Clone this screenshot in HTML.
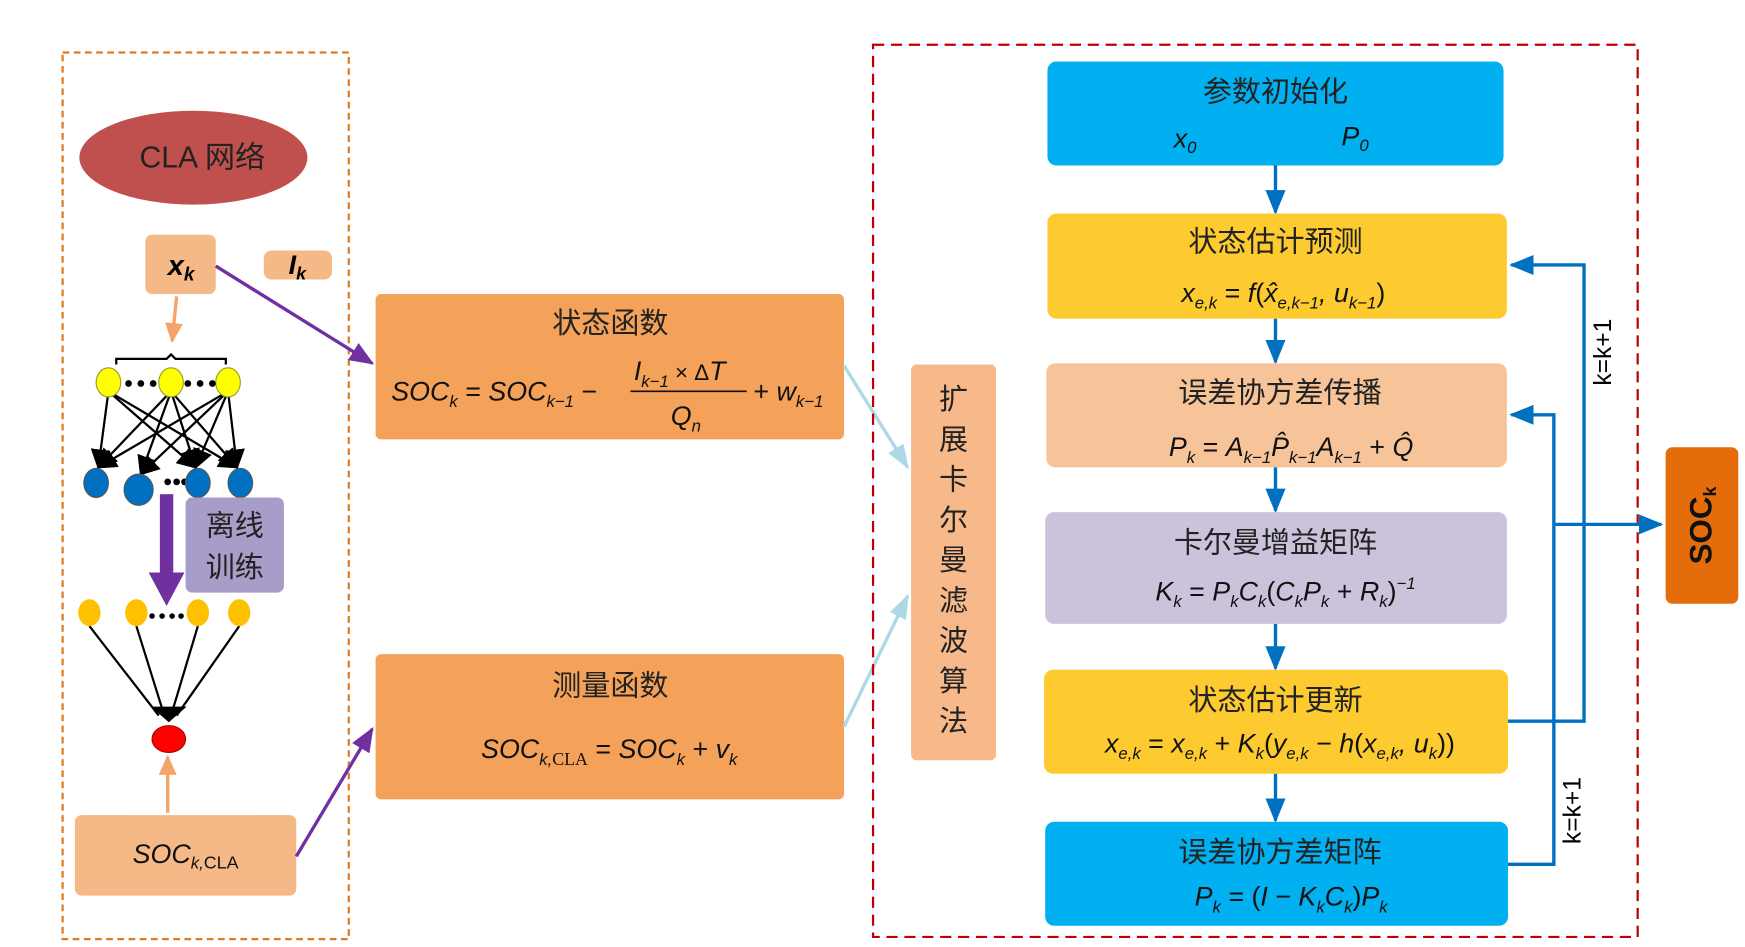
<!DOCTYPE html>
<html><head><meta charset="utf-8"><style>
html,body{margin:0;padding:0;background:#fff;}
svg{display:block;}
text{font-family:"Liberation Sans","Noto Sans CJK SC",sans-serif;}
.cn{font-size:26px;fill:#222;}
.m{font-style:italic;font-size:24px;fill:#111;}
.s{font-size:15px;}
</style></head><body>
<svg width="1745" height="947" viewBox="0 0 1561 847" preserveAspectRatio="none" xmlns="http://www.w3.org/2000/svg">
<defs>
<marker id="ab" markerWidth="8" markerHeight="8" refX="6" refY="4" orient="auto" markerUnits="userSpaceOnUse"><path d="M0,0 L8,4 L0,8z" fill="#000"/></marker>
<marker id="ap" markerWidth="22" markerHeight="18" refX="20" refY="9" orient="auto" markerUnits="userSpaceOnUse"><path d="M0,0 L22,9 L0,18z" fill="#7030a0"/></marker>
<marker id="ao" markerWidth="18" markerHeight="16" refX="16" refY="8" orient="auto" markerUnits="userSpaceOnUse"><path d="M0,0 L18,8 L0,16z" fill="#f4a46a"/></marker>
<marker id="al" markerWidth="22" markerHeight="16" refX="20" refY="8" orient="auto" markerUnits="userSpaceOnUse"><path d="M0,0 L22,8 L0,16z" fill="#add8e6"/></marker>
<marker id="abl" markerWidth="22" markerHeight="18" refX="20" refY="9" orient="auto" markerUnits="userSpaceOnUse"><path d="M0,0 L22,9 L0,18z" fill="#0070c0"/></marker>
<marker id="ak" markerWidth="18" markerHeight="18" refX="16" refY="9" orient="auto" markerUnits="userSpaceOnUse"><path d="M0,0 L18,9 L0,18z" fill="#000"/></marker>
</defs>

<!-- left dashed -->
<rect x="56" y="47" width="256" height="793" fill="none" stroke="#e07b22" stroke-width="2" stroke-dasharray="6,4"/>
<ellipse cx="173" cy="141" rx="102" ry="42" fill="#c0504d"/>
<text x="181" y="150" font-size="27" text-anchor="middle" fill="#222">CLA 网络</text>
<rect x="130" y="210" width="63" height="53" rx="6" fill="#f5b887"/>
<text x="162" y="246" font-size="26" font-weight="bold" font-style="italic" text-anchor="middle">x<tspan font-size="17" dy="5">k</tspan></text>
<rect x="236" y="224" width="61" height="26" rx="7" fill="#f5b887"/>
<text x="266" y="245" font-size="24" font-weight="bold" font-style="italic" text-anchor="middle">I<tspan font-size="16" dy="5">k</tspan></text>
<line x1="158" y1="265" x2="154" y2="305" stroke="#f4a46a" stroke-width="3" marker-end="url(#ao)"/>
<path d="M104,326 v-5 h45 l4,-4 l4,4 h45 v5" fill="none" stroke="#000" stroke-width="2"/>
<!-- connections -->
<g stroke="#000" stroke-width="2" marker-end="url(#ak)">
<line x1="97" y1="350" x2="88" y2="418"/><line x1="97" y1="350" x2="175" y2="418"/><line x1="97" y1="350" x2="212" y2="418"/>
<line x1="153" y1="350" x2="88" y2="418"/><line x1="153" y1="350" x2="126" y2="424"/><line x1="153" y1="350" x2="175" y2="418"/><line x1="153" y1="350" x2="212" y2="418"/>
<line x1="204" y1="350" x2="88" y2="418"/><line x1="204" y1="350" x2="126" y2="424"/><line x1="204" y1="350" x2="175" y2="418"/><line x1="204" y1="350" x2="212" y2="418"/>
</g>
<g fill="#ffff00" stroke="#9a9a30"><ellipse cx="97" cy="342" rx="11" ry="13"/><ellipse cx="153" cy="342" rx="11" ry="13"/><ellipse cx="204" cy="342" rx="11" ry="13"/></g>
<g fill="#000"><circle cx="115" cy="343" r="3"/><circle cx="126" cy="343" r="3"/><circle cx="137" cy="343" r="3"/><circle cx="168" cy="343" r="3"/><circle cx="179" cy="343" r="3"/><circle cx="190" cy="343" r="3"/>
<circle cx="150" cy="431" r="3"/><circle cx="158" cy="431" r="3"/><circle cx="165" cy="431" r="3"/></g>
<g fill="#0070c0" stroke="#555"><ellipse cx="86" cy="432" rx="11" ry="13"/><ellipse cx="124" cy="438" rx="13" ry="14"/><ellipse cx="177" cy="432" rx="11" ry="13"/><ellipse cx="215" cy="432" rx="11" ry="13"/></g>
<rect x="143" y="442" width="12" height="72" fill="#7030a0"/>
<path d="M133,512 L165,512 L149,542z" fill="#7030a0"/>
<rect x="166" y="445" width="88" height="85" rx="6" fill="#a89cc8"/>
<text x="210" y="479" class="cn" text-anchor="middle" font-size="28">离线</text>
<text x="210" y="516" class="cn" text-anchor="middle" font-size="28">训练</text>
<g stroke="#000" stroke-width="2">
<line x1="80" y1="560" x2="142" y2="640"/><line x1="122" y1="560" x2="147" y2="640"/><line x1="177" y1="560" x2="153" y2="640"/><line x1="214" y1="560" x2="158" y2="640"/>
</g>
<path d="M135,632 L167,632 L151,646z" fill="#000"/>
<g fill="#ffc000"><ellipse cx="80" cy="548" rx="10" ry="12"/><ellipse cx="122" cy="548" rx="10" ry="12"/><ellipse cx="177" cy="548" rx="10" ry="12"/><ellipse cx="214" cy="548" rx="10" ry="12"/></g>
<g fill="#000"><circle cx="136" cy="551" r="2.5"/><circle cx="145" cy="551" r="2.5"/><circle cx="154" cy="551" r="2.5"/><circle cx="162" cy="551" r="2.5"/></g>
<ellipse cx="151" cy="661" rx="15" ry="12" fill="#ff0000" stroke="#a00"/>
<line x1="150" y1="727" x2="150" y2="677" stroke="#f4a46a" stroke-width="3" marker-end="url(#ao)"/>
<rect x="67" y="729" width="198" height="72" rx="6" fill="#f5b887"/>
<text x="166" y="772" class="m" text-anchor="middle">SOC<tspan font-size="15" dy="5">k,</tspan><tspan font-size="16" font-style="normal">CLA</tspan></text>

<line x1="193" y1="238" x2="333" y2="325" stroke="#7030a0" stroke-width="3" marker-end="url(#ap)"/>
<line x1="265" y1="766" x2="333" y2="652" stroke="#7030a0" stroke-width="3" marker-end="url(#ap)"/>

<!-- middle -->
<rect x="336" y="263" width="419" height="130" rx="5" fill="#f4a15a"/>
<text x="546" y="298" class="cn" text-anchor="middle">状态函数</text>
<text x="350" y="358" class="m">SOC<tspan class="s" dy="6">k</tspan><tspan dy="-6" font-style="normal"> = </tspan>SOC<tspan class="s" dy="6">k−1</tspan><tspan dy="-6" font-style="normal"> − </tspan></text>
<line x1="564" y1="350" x2="668" y2="350" stroke="#111" stroke-width="1.5"/>
<text x="567" y="340" class="m">I<tspan class="s" dy="6">k−1</tspan><tspan dy="-6" font-style="normal" font-size="20"> × Δ</tspan>T</text>
<text x="600" y="380" class="m">Q<tspan class="s" dy="6">n</tspan></text>
<text x="674" y="358" class="m"><tspan font-style="normal">+ </tspan>w<tspan class="s" dy="6">k−1</tspan></text>
<rect x="336" y="585" width="419" height="130" rx="5" fill="#f4a15a"/>
<text x="546" y="622" class="cn" text-anchor="middle">测量函数</text>
<text x="545" y="678" class="m" text-anchor="middle">SOC<tspan class="s" dy="6">k,</tspan><tspan font-size="16" font-style="normal" font-family="Liberation Serif">CLA</tspan><tspan dy="-6" font-style="normal"> = </tspan>SOC<tspan class="s" dy="6">k</tspan><tspan dy="-6" font-style="normal"> + </tspan>v<tspan class="s" dy="6">k</tspan></text>
<line x1="755" y1="327" x2="812" y2="418" stroke="#add8e6" stroke-width="3" marker-end="url(#al)"/>
<line x1="755" y1="650" x2="812" y2="533" stroke="#add8e6" stroke-width="3" marker-end="url(#al)"/>
<rect x="815" y="326" width="76" height="354" rx="5" fill="#f7b98a"/>
<g class="cn" text-anchor="middle" font-size="27">
<text x="853" y="366">扩</text><text x="853" y="402">展</text><text x="853" y="438">卡</text><text x="853" y="474">尔</text><text x="853" y="510">曼</text><text x="853" y="546">滤</text><text x="853" y="582">波</text><text x="853" y="618">算</text><text x="853" y="654">法</text>
</g>

<!-- right dashed -->
<rect x="781" y="40" width="684" height="798" fill="none" stroke="#c00000" stroke-width="2" stroke-dasharray="10,6"/>
<g stroke="#0070c0" stroke-width="3" marker-end="url(#abl)">
<line x1="1141" y1="148" x2="1141" y2="190"/><line x1="1141" y1="285" x2="1141" y2="324"/><line x1="1141" y1="418" x2="1141" y2="457"/><line x1="1141" y1="558" x2="1141" y2="598"/><line x1="1141" y1="692" x2="1141" y2="734"/>
</g>
<rect x="937" y="55" width="408" height="93" rx="8" fill="#00b0f0"/>
<text x="1141" y="91" class="cn" text-anchor="middle">参数初始化</text>
<text x="1050" y="132" class="m">x<tspan class="s" dy="5">0</tspan></text>
<text x="1200" y="130" class="m">P<tspan class="s" dy="5">0</tspan></text>
<rect x="937" y="191" width="411" height="94" rx="8" fill="#fdca30"/>
<text x="1141" y="225" class="cn" text-anchor="middle">状态估计预测</text>
<text x="1148" y="270" class="m" text-anchor="middle">x<tspan class="s" dy="6">e,k</tspan><tspan dy="-6" font-style="normal"> = </tspan>f<tspan font-style="normal">(</tspan>x̂<tspan class="s" dy="6">e,k−1</tspan><tspan dy="-6">, </tspan>u<tspan class="s" dy="6">k−1</tspan><tspan dy="-6" font-style="normal">)</tspan></text>
<rect x="936" y="325" width="412" height="93" rx="8" fill="#f7c49a"/>
<text x="1145" y="360" class="cn" text-anchor="middle">误差协方差传播</text>
<text x="1155" y="408" class="m" text-anchor="middle">P<tspan class="s" dy="6">k</tspan><tspan dy="-6" font-style="normal"> = </tspan>A<tspan class="s" dy="6">k−1</tspan><tspan dy="-6">P̂</tspan><tspan class="s" dy="6">k−1</tspan><tspan dy="-6">A</tspan><tspan class="s" dy="6">k−1</tspan><tspan dy="-6" font-style="normal"> + </tspan>Q̂</text>
<rect x="935" y="458" width="413" height="100" rx="8" fill="#cbc3dc"/>
<text x="1141" y="494" class="cn" text-anchor="middle">卡尔曼增益矩阵</text>
<text x="1150" y="537" class="m" text-anchor="middle">K<tspan class="s" dy="6">k</tspan><tspan dy="-6" font-style="normal"> = </tspan>P<tspan class="s" dy="6">k</tspan><tspan dy="-6">C</tspan><tspan class="s" dy="6">k</tspan><tspan dy="-6" font-style="normal">(</tspan>C<tspan class="s" dy="6">k</tspan><tspan dy="-6">P</tspan><tspan class="s" dy="6">k</tspan><tspan dy="-6" font-style="normal"> + </tspan>R<tspan class="s" dy="6">k</tspan><tspan dy="-6" font-style="normal">)</tspan><tspan class="s" dy="-10">−1</tspan></text>
<rect x="934" y="599" width="415" height="93" rx="8" fill="#fdca30"/>
<text x="1141" y="635" class="cn" text-anchor="middle">状态估计更新</text>
<text x="1145" y="673" class="m" text-anchor="middle">x<tspan class="s" dy="6">e,k</tspan><tspan dy="-6" font-style="normal"> = </tspan>x<tspan class="s" dy="6">e,k</tspan><tspan dy="-6" font-style="normal"> + </tspan>K<tspan class="s" dy="6">k</tspan><tspan dy="-6" font-style="normal">(</tspan>y<tspan class="s" dy="6">e,k</tspan><tspan dy="-6" font-style="normal"> − </tspan>h<tspan font-style="normal">(</tspan>x<tspan class="s" dy="6">e,k</tspan><tspan dy="-6">, </tspan>u<tspan class="s" dy="6">k</tspan><tspan dy="-6" font-style="normal">))</tspan></text>
<rect x="935" y="735" width="414" height="93" rx="8" fill="#00b0f0"/>
<text x="1145" y="771" class="cn" text-anchor="middle">误差协方差矩阵</text>
<text x="1155" y="810" class="m" text-anchor="middle">P<tspan class="s" dy="6">k</tspan><tspan dy="-6" font-style="normal"> = (</tspan>I<tspan font-style="normal"> − </tspan>K<tspan class="s" dy="6">k</tspan><tspan dy="-6">C</tspan><tspan class="s" dy="6">k</tspan><tspan dy="-6" font-style="normal">)</tspan>P<tspan class="s" dy="6">k</tspan></text>

<!-- feedback -->
<polyline points="1349,645 1417,645 1417,237 1352,237" fill="none" stroke="#0070c0" stroke-width="3" marker-end="url(#abl)"/>
<polyline points="1349,773 1390,773 1390,371 1352,371" fill="none" stroke="#0070c0" stroke-width="3" marker-end="url(#abl)"/>
<line x1="1390" y1="469" x2="1486" y2="469" stroke="#0070c0" stroke-width="3" marker-end="url(#abl)"/>
<text transform="translate(1441,315) rotate(-90)" font-size="22" text-anchor="middle" fill="#000">k=k+1</text>
<text transform="translate(1414,725) rotate(-90)" font-size="22" text-anchor="middle" fill="#000">k=k+1</text>
<rect x="1490" y="400" width="65" height="140" rx="6" fill="#e46c0a"/>
<text transform="translate(1531,470) rotate(-90)" font-size="28" font-weight="bold" text-anchor="middle" fill="#111">SOC<tspan font-size="16" dy="4">k</tspan></text>
</svg>
</body></html>
